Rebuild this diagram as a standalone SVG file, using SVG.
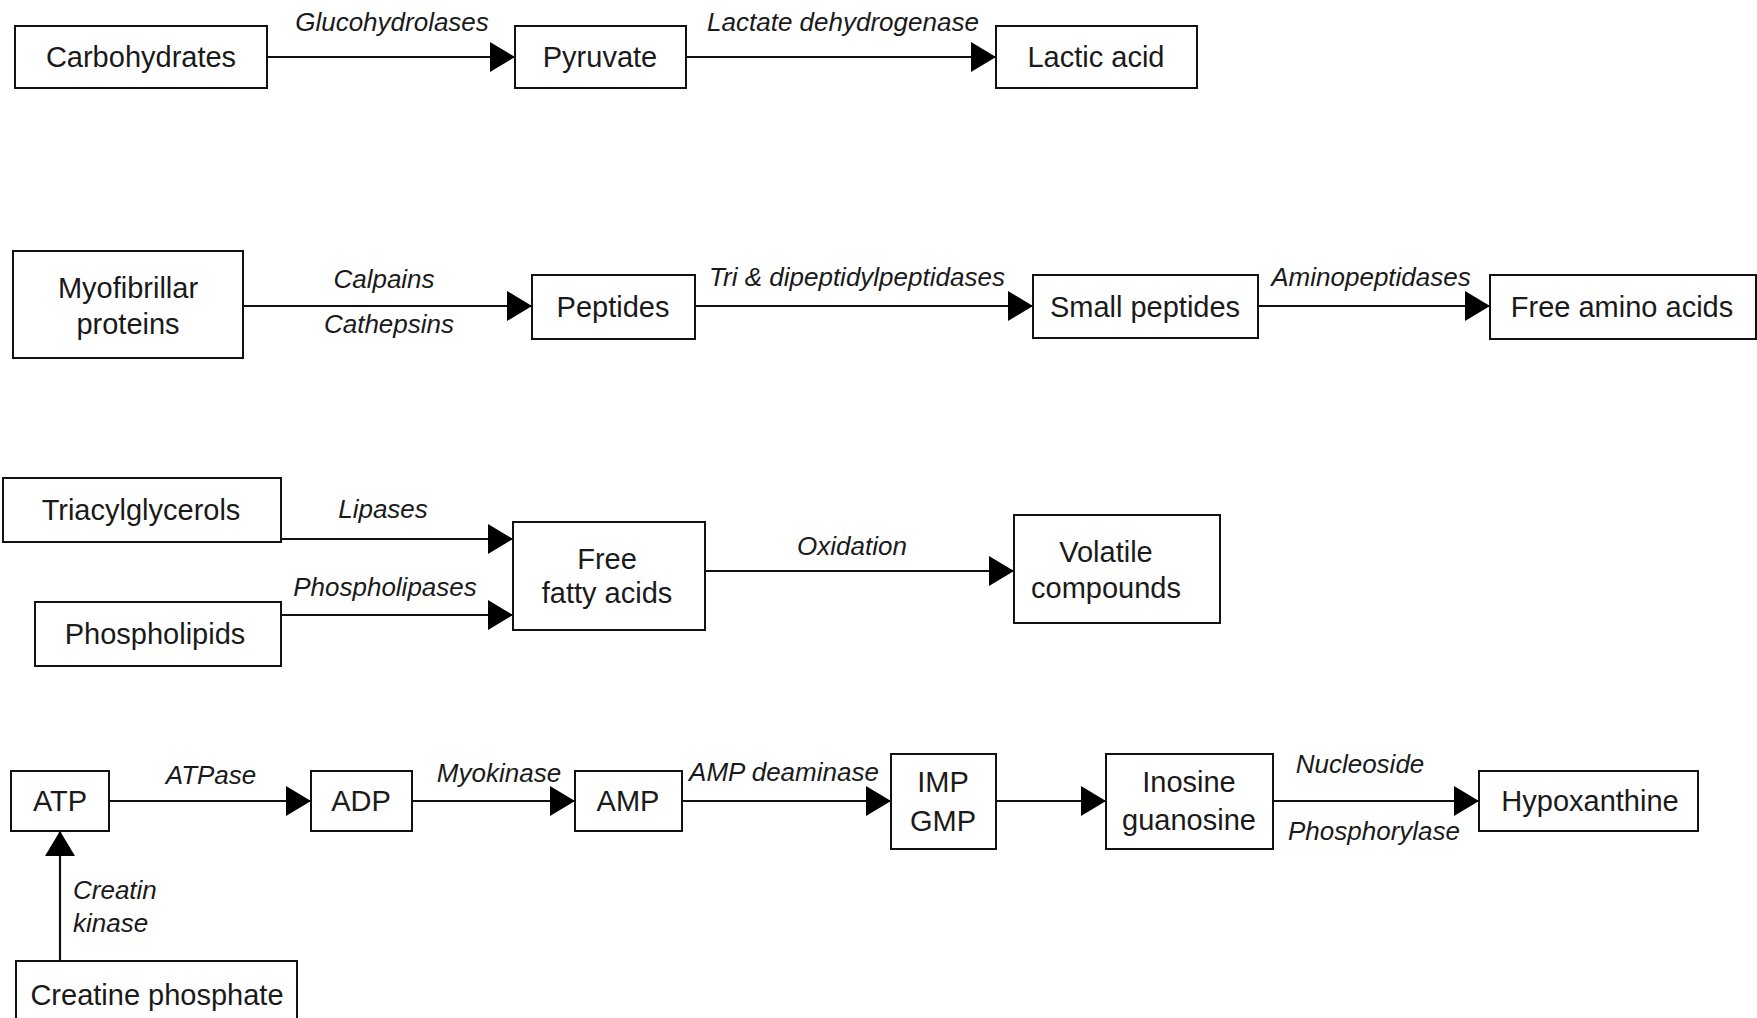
<svg xmlns="http://www.w3.org/2000/svg" width="1757" height="1018" viewBox="0 0 1757 1018">
<style>
rect.n{fill:#fff;stroke:#111;stroke-width:2}
text{font-family:"Liberation Sans",Arial,sans-serif;fill:#1a1a1a}
.t{font-size:29px;text-anchor:middle}
.l{font-size:26px;font-style:italic;text-anchor:middle}
.c{stroke:#111;stroke-width:2.2;fill:none}
</style>
<defs>
<marker id="ah" markerUnits="userSpaceOnUse" markerWidth="26" markerHeight="30" refX="25" refY="15" orient="auto">
<path d="M0,0 L25,15 L0,30 z" fill="#000"/>
</marker>
</defs>
<rect width="1757" height="1018" fill="#fff"/>
<g id="connectors">
<line class="c" x1="267" y1="57" x2="515" y2="57" marker-end="url(#ah)"/>
<line class="c" x1="686" y1="57" x2="996" y2="57" marker-end="url(#ah)"/>
<line class="c" x1="243" y1="306" x2="532" y2="306" marker-end="url(#ah)"/>
<line class="c" x1="695" y1="306" x2="1033" y2="306" marker-end="url(#ah)"/>
<line class="c" x1="1258" y1="306" x2="1490" y2="306" marker-end="url(#ah)"/>
<line class="c" x1="281" y1="539" x2="513" y2="539" marker-end="url(#ah)"/>
<line class="c" x1="281" y1="615" x2="513" y2="615" marker-end="url(#ah)"/>
<line class="c" x1="705" y1="571" x2="1014" y2="571" marker-end="url(#ah)"/>
<line class="c" x1="109" y1="801" x2="311" y2="801" marker-end="url(#ah)"/>
<line class="c" x1="412" y1="801" x2="575" y2="801" marker-end="url(#ah)"/>
<line class="c" x1="682" y1="801" x2="891" y2="801" marker-end="url(#ah)"/>
<line class="c" x1="996" y1="801" x2="1106" y2="801" marker-end="url(#ah)"/>
<line class="c" x1="1273" y1="801" x2="1479" y2="801" marker-end="url(#ah)"/>
<line class="c" x1="60" y1="961" x2="60" y2="831" marker-end="url(#ah)"/>
<text class="l" x="392" y="31">Glucohydrolases</text>
<text class="l" x="843" y="31">Lactate dehydrogenase</text>
<text class="l" x="384" y="288">Calpains</text>
<text class="l" x="389" y="333">Cathepsins</text>
<text class="l" x="857" y="286">Tri &amp; dipeptidylpeptidases</text>
<text class="l" x="1371" y="286">Aminopeptidases</text>
<text class="l" x="383" y="518">Lipases</text>
<text class="l" x="385" y="596">Phospholipases</text>
<text class="l" x="852" y="555">Oxidation</text>
<text class="l" x="211" y="784">ATPase</text>
<text class="l" x="499" y="782">Myokinase</text>
<text class="l" x="784" y="781">AMP deaminase</text>
<text class="l" x="1360" y="773">Nucleoside</text>
<text class="l" x="1374" y="840">Phosphorylase</text>
<text class="l" x="73" y="899" style="text-anchor:start">Creatin</text>
<text class="l" x="73" y="932" style="text-anchor:start">kinase</text>
</g>
<g id="carbohydrates"><rect class="n" x="15" y="26" width="252" height="62"/><text class="t" x="141" y="67">Carbohydrates</text></g>
<g id="pyruvate"><rect class="n" x="515" y="26" width="171" height="62"/><text class="t" x="600" y="67">Pyruvate</text></g>
<g id="lactic-acid"><rect class="n" x="996" y="26" width="201" height="62"/><text class="t" x="1096" y="67">Lactic acid</text></g>
<g id="myofibrillar"><rect class="n" x="13" y="251" width="230" height="107"/><text class="t" x="128" y="298">Myofibrillar</text><text class="t" x="128" y="334">proteins</text></g>
<g id="peptides"><rect class="n" x="532" y="275" width="163" height="64"/><text class="t" x="613" y="317">Peptides</text></g>
<g id="small-peptides"><rect class="n" x="1033" y="275" width="225" height="63"/><text class="t" x="1145" y="317">Small peptides</text></g>
<g id="free-amino-acids"><rect class="n" x="1490" y="275" width="266" height="64"/><text class="t" x="1622" y="317">Free amino acids</text></g>
<g id="triacylglycerols"><rect class="n" x="3" y="478" width="278" height="64"/><text class="t" x="141" y="520">Triacylglycerols</text></g>
<g id="phospholipids"><rect class="n" x="35" y="602" width="246" height="64"/><text class="t" x="155" y="644">Phospholipids</text></g>
<g id="free-fatty-acids"><rect class="n" x="513" y="522" width="192" height="108"/><text class="t" x="607" y="569">Free</text><text class="t" x="607" y="603">fatty acids</text></g>
<g id="volatile-compounds"><rect class="n" x="1014" y="515" width="206" height="108"/><text class="t" x="1106" y="562">Volatile</text><text class="t" x="1106" y="598">compounds</text></g>
<g id="atp"><rect class="n" x="11" y="771" width="98" height="60"/><text class="t" x="60" y="811">ATP</text></g>
<g id="adp"><rect class="n" x="311" y="771" width="101" height="60"/><text class="t" x="361" y="811">ADP</text></g>
<g id="amp"><rect class="n" x="575" y="771" width="107" height="60"/><text class="t" x="628" y="811">AMP</text></g>
<g id="imp-gmp"><rect class="n" x="891" y="754" width="105" height="95"/><text class="t" x="943" y="792">IMP</text><text class="t" x="943" y="831">GMP</text></g>
<g id="inosine-guanosine"><rect class="n" x="1106" y="754" width="167" height="95"/><text class="t" x="1189" y="792">Inosine</text><text class="t" x="1189" y="830">guanosine</text></g>
<g id="hypoxanthine"><rect class="n" x="1479" y="771" width="219" height="60"/><text class="t" x="1590" y="811">Hypoxanthine</text></g>
<g id="creatine-phosphate"><rect class="n" x="16" y="961" width="281" height="64"/><text class="t" x="157" y="1005">Creatine phosphate</text></g>
</svg>
